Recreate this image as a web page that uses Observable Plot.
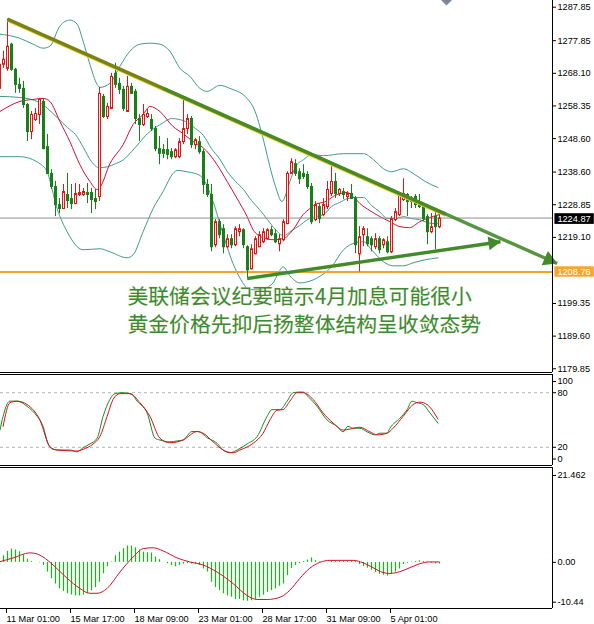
<!DOCTYPE html>
<html><head><meta charset="utf-8">
<script src="https://cdn.jsdelivr.net/npm/d3@7"></script>
<script src="https://cdn.jsdelivr.net/npm/@observablehq/plot@0.6"></script>
<style>
html,body{margin:0;padding:0;background:#fff;}
#chart{position:relative;width:594px;height:624px;overflow:hidden;background:#fff;}
#chart svg{position:absolute;left:0;}
</style></head><body><div id="chart"></div>
<script>
// ===== DATA (XAUUSD H4) =====
const barStart = -1; // index of first bar
const openP = [1263.6,1270.8,1269.6,1276.8,1269.3,1264.8,1263.6,1258.8,1250.7,1254.3,
 1255.8,1259.7,1246.2,1238.2,1234.3,1228.9,1227.7,1231.9,1230.7,1229.2,
 1231.9,1231.9,1232.5,1232.5,1230.7,1231.3,1261.2,1255.2,1257.6,1268.1,
 1265.1,1263.3,1256.7,1264.2,1262.7,1254.6,1252.8,1255.2,1254.3,1251.6,
 1245.6,1245.3,1245.3,1244.7,1243.2,1243.2,1247.7,1251.6,1254.6,1246.8,
 1247.7,1244.7,1234.9,1231.9,1216.9,1223.8,1221.7,1216.3,1218.7,1216.9,
 1220.8,1221.4,1216.3,1209.7,1214.2,1216.3,1217.8,1218.7,1221.4,1220.2,
 1217.2,1218.4,1223.2,1238.2,1241.1,1238.7,1238.2,1237.9,1234.3,1224.4,
 1228.3,1225.9,1228.3,1232.2,1235.8,1232.2,1232.8,1231.3,1232.2,1230.7,
 1214.2,1219.9,1219.3,1218.7,1216.3,1218.7,1216.9,1217.8,1214.8,1224.4,
 1225.9,1230.4,1231.9,1229.8,1231.3,1229.8,1228.3,1225.3,1220.8,1225.3,
 1222.3];
const highP = [1271.7,1274.7,1284.3,1277.1,1269.6,1266.6,1265.7,1259.1,1256.7,1257.6,
 1260.6,1260.6,1249.8,1239.3,1235.8,1230.7,1234.9,1238.2,1234.9,1235.2,
 1234.9,1233.7,1235.2,1233.7,1233.4,1263.9,1261.8,1259.1,1268.1,1271.1,
 1266.6,1264.2,1267.2,1265.1,1263.3,1255.8,1258.8,1257.3,1255.8,1252.2,
 1249.2,1246.8,1248.6,1245.6,1245.6,1248.6,1260.3,1255.8,1255.2,1248.6,
 1249.2,1245.3,1236.4,1234.9,1224.4,1224.4,1222.9,1219.9,1219.9,1222.3,
 1222.9,1221.7,1216.6,1216.9,1219.3,1220.8,1221.7,1221.7,1222.3,1221.4,
 1219.9,1224.4,1238.7,1242.6,1242.3,1239.6,1240.8,1238.7,1235.2,1229.8,
 1229.2,1230.7,1235.8,1240.2,1238.2,1233.7,1233.7,1232.8,1234.9,1231.3,
 1222.3,1222.3,1221.7,1219.3,1220.2,1219.3,1218.7,1219.3,1225.3,1227.7,
 1232.2,1236.6,1232.2,1231.3,1231.9,1231.9,1228.9,1225.9,1226.2,1227.4,
 1226.2];
const lowP = [1262.7,1269.6,1268.7,1268.7,1262.1,1262.1,1257.6,1247.7,1248.3,1253.7,
 1252.8,1245.3,1237.9,1233.4,1225.3,1226.2,1227.4,1227.7,1227.4,1228.9,
 1231.3,1231.3,1229.2,1226.2,1227.4,1229.8,1254.6,1254.3,1257.3,1263.6,
 1261.8,1256.7,1256.4,1261.8,1252.8,1247.7,1252.2,1254.6,1250.7,1244.7,
 1240.8,1242.6,1242.3,1242.3,1242.6,1242.6,1246.8,1249.8,1245.6,1245.3,
 1243.9,1231.9,1231.0,1214.8,1216.0,1218.7,1214.2,1215.7,1215.7,1216.3,
 1219.3,1215.7,1207.0,1209.4,1213.9,1216.0,1217.2,1218.4,1219.3,1217.2,
 1214.8,1217.8,1222.9,1237.9,1237.3,1234.9,1236.4,1233.4,1222.9,1223.8,
 1223.2,1225.3,1227.4,1231.3,1230.7,1231.3,1230.4,1229.8,1230.4,1214.2,
 1208.8,1216.3,1216.3,1214.8,1215.4,1214.2,1215.7,1214.2,1214.2,1223.8,
 1225.3,1229.8,1225.3,1227.7,1227.7,1227.7,1223.8,1216.9,1220.2,1215.4,
 1221.7];
const closeP = [1270.8,1272.3,1276.2,1269.3,1264.8,1263.6,1258.8,1250.7,1255.8,1256.1,
 1260.3,1245.6,1238.2,1234.3,1228.9,1227.7,1232.8,1230.1,1229.2,1232.2,
 1232.5,1232.8,1231.9,1230.4,1229.8,1262.1,1255.2,1258.2,1267.2,1264.8,
 1263.3,1257.6,1264.2,1262.1,1254.6,1252.8,1255.8,1256.1,1251.6,1245.6,
 1244.2,1244.2,1243.9,1243.2,1245.3,1247.7,1251.6,1254.6,1246.8,1248.3,
 1244.7,1234.9,1231.9,1216.3,1223.8,1219.9,1216.3,1218.7,1216.9,1221.7,
 1221.7,1216.9,1209.4,1215.7,1218.7,1219.9,1220.8,1221.4,1219.9,1217.8,
 1218.7,1223.8,1238.2,1241.7,1238.2,1236.6,1237.3,1234.3,1223.8,1228.9,
 1224.7,1228.9,1233.4,1235.8,1232.2,1233.4,1231.9,1232.2,1230.7,1216.9,
 1219.3,1221.7,1217.2,1216.9,1218.7,1215.4,1218.4,1214.8,1224.7,1226.8,
 1231.9,1232.2,1229.8,1230.7,1228.9,1228.3,1224.7,1220.8,1222.3,1222.3,
 1224.87];

// Bollinger bands & moving average, [bar index, price]
const bbUpper = [[-0.875,1279.8],[4,1278.6],[7.4,1276.8],[9.9,1275.6],[11.6,1276.2],[14.1,1282.2],[16.6,1284.0],[18.4,1282.8],[19.9,1277.7],[21.6,1270.8],[23.4,1264.8],[24.1,1263.9],[26.6,1265.1],[29.1,1270.2],[31.6,1274.7],[34.1,1276.8],[36.6,1277.1],[39.1,1276.8],[41.6,1274.7],[44.1,1269.6],[46.6,1267.2],[49.1,1263.6],[50.9,1262.7],[54.1,1264.5],[56.6,1263.6],[60.9,1260.6],[62.9,1256.7],[64.1,1252.2],[65.4,1246.2],[66.6,1240.2],[68,1234.3],[69.6,1229.8],[71.6,1235.8],[73,1240.2],[75,1242.3],[77,1243.8],[80,1243.5],[85,1244.1],[90,1244.1],[92.5,1242.3],[95,1239.6],[97,1238.7],[100,1239.6],[102.4,1238.2],[105.4,1235.8],[108.6,1234.0]];
const bbMiddle = [[-0.875,1261.2],[4,1260.9],[9,1259.4],[11,1257.6],[13.4,1254.9],[16,1251.9],[18,1249.8],[20,1245.9],[22,1241.7],[24,1239.9],[26,1240.2],[28,1241.1],[30,1242.3],[32,1244.7],[34,1247.4],[36,1250.1],[38,1251.9],[40,1253.4],[42,1254.6],[44,1254.3],[46,1253.4],[48,1251.6],[50,1249.5],[52,1245.6],[54,1242.6],[56,1238.7],[58,1235.8],[60,1233.4],[62,1230.1],[64,1227.4],[66,1224.4],[68,1221.4],[70,1219.6],[72,1221.1],[74,1222.6],[76,1224.4],[78,1225.3],[80,1225.9],[82,1228.3],[84,1229.5],[86,1230.7],[88,1231.0],[90,1231.0],[92,1228.6],[94,1226.8],[96,1224.7],[98,1224.7],[100,1225.3],[102,1224.7],[104,1224.4],[106,1223.5],[108,1223.2],[109,1223.5]];
const bbLower = [[-0.875,1243.2],[4.1,1243.2],[9.1,1241.1],[10.9,1238.7],[13.4,1227.7],[15.9,1220.8],[19.9,1215.4],[24.1,1215.7],[26.6,1214.8],[30.9,1213.0],[32.4,1213.9],[34.9,1220.8],[37.4,1227.7],[39.9,1232.8],[42.4,1238.2],[43.4,1239.1],[45.9,1238.7],[49.1,1237.6],[52.4,1229.8],[54.1,1223.2],[55.9,1216.3],[57.4,1211.2],[59.1,1207.0],[60.9,1204.0],[62.9,1203.4],[65.4,1204.0],[67.4,1205.5],[68.6,1208.2],[69.9,1210.3],[71.6,1207.6],[74.1,1205.5],[77.4,1206.4],[80,1208.2],[82,1210.3],[85,1215.4],[88,1217.5],[90,1217.8],[92,1215.4],[95,1211.8],[97.5,1210.6],[100,1210.6],[102.4,1211.5],[105.4,1212.4],[108.6,1213.0]];
const maLine = [[-0.875,1256.7],[4.1,1259.7],[7.4,1260.3],[9.9,1260.6],[11.6,1259.7],[14.1,1253.7],[16.6,1247.7],[19.1,1240.8],[21.6,1235.8],[23.4,1233.4],[24.1,1234.0],[26.6,1241.1],[29.9,1246.8],[32.4,1252.8],[34.9,1255.8],[36.6,1258.2],[39.1,1256.7],[42.4,1252.2],[44.9,1250.1],[47.4,1247.7],[49.9,1245.9],[53.4,1240.8],[55.9,1235.8],[58.4,1230.7],[60.9,1225.3],[62.4,1221.4],[64.9,1219.0],[67.4,1218.4],[69.9,1218.7],[72.4,1221.4],[74.9,1225.9],[76.6,1227.7],[78.4,1229.2],[79.9,1229.5],[83.4,1231.9],[85.9,1232.5],[87.4,1231.3],[89.1,1229.2],[91.6,1227.1],[94.1,1225.3],[96.6,1223.8],[99.1,1222.3],[101.5,1222.0],[104.1,1223.8],[106.5,1225.0],[108.9,1225.9]];

// drawn objects
const bidPrice = 1224.87;
const supportLevel = 1208.76;
const resistTrend = [{k1: 1, p1: 1284.3, k2: 110.5, p2: 1226.1}];
const resistArrow = [{k1: 40, p1: 1263.58, k2: 138.4, p2: 1211.3}];
const supportArrow = [{k1: 60.9, p1: 1206.8, k2: 124.25, p2: 1217.8}];
const marker = [{k: 110.75, p: 1290.15}];
const headline = ["美联储会议纪要暗示4月加息可能很小", "黄金价格先抑后扬整体结构呈收敛态势"];
const priceTicks = [1287.85, 1277.85, 1268.10, 1258.35, 1248.60, 1238.60, 1228.85, 1219.10, 1199.35, 1189.60, 1179.85];

// Stochastic, [bar index, value]
const stochK = [[-0.875,39],[-0.1,54],[1.1,69],[1.6,70.7],[3.4,70.7],[5.9,65],[8.4,54],[9.9,43],[11.1,24.4],[12.4,17.8],[14.1,17],[16.6,17],[18.4,15],[19.9,19.6],[21.6,23.7],[23.4,30],[24.9,54],[26.6,72.6],[27.9,79],[29.9,80],[32.1,78],[33.4,70.7],[35.9,57.8],[37.9,30],[39.1,28],[41.6,26],[43.4,27],[44.9,28],[47.1,37.3],[48.6,37.3],[51.1,30],[53.4,24.4],[54.9,17],[56.6,14],[58.4,17],[60.9,23.7],[63.4,31.8],[65.9,54],[67.1,61.4],[69.1,61.4],[70.9,70.7],[72.4,80],[74.1,80.7],[74.9,80.7],[76.1,76],[78.4,65],[80.9,50],[83.4,43],[84.9,37],[86.1,43],[87.4,41],[89.1,41],[90.9,37],[92.9,33.7],[94.1,35.5],[95.9,35.5],[96.6,41],[99.1,52],[100.9,61.4],[102.1,70.7],[103.4,69],[104.9,67],[106.6,57.8],[108.6,46.7]];
const stochD = [[-0.1,43],[1.6,69],[3.4,70.7],[5.9,67],[9.1,50],[11.6,20.7],[13.4,17],[18.4,15.9],[19.9,17.8],[22.4,23.7],[24.1,31.8],[25.9,54],[27.4,72.6],[29.1,79],[31.6,79],[34.1,69],[36.6,54],[39.1,30],[41.6,25],[44.9,28],[48.4,37.3],[49.9,35.5],[52.4,26],[54.9,17],[57.4,14],[59.1,17],[62.4,24.4],[64.9,35.5],[66.6,50],[68.4,60.7],[69.9,61.4],[71.6,70.7],[73.4,80],[74.9,80],[77.4,72.6],[79.9,57.8],[82.4,46.7],[84.9,39],[86.6,40],[89.1,42],[91.6,37],[93.4,33.7],[95.9,35.5],[97.4,41],[99.9,54],[102.4,67],[104.1,69.6],[105.9,67],[107.4,59.6],[108.6,51]];
const stochTicks = [100, 80, 20, 0];

// MACD histogram per bar (from bar 0) and signal line [bar index, value]
const macdStart = 0;
const macdHist = [1.5,2.5,3.0,2.8,2.4,1.7,0.7,0.2,0.0,-0.1,
 -0.7,-2.2,-3.7,-4.9,-6.0,-6.6,-7.1,-7.4,-7.6,-7.6,
 -7.4,-7.1,-6.4,-5.7,-4.5,-2.6,-1.0,0.1,1.5,2.3,
 3.1,3.7,3.7,3.3,2.8,2.3,2.2,2.1,1.2,0.6,
 0.0,-0.3,-0.7,-1.0,-0.7,-0.4,-0.3,-0.4,-0.5,-0.7,
 -1.5,-2.2,-4.5,-5.7,-6.4,-7.1,-7.6,-7.9,-8.4,-8.4,
 -8.7,-8.8,-8.7,-8.4,-7.9,-7.4,-6.8,-6.4,-6.0,-5.4,
 -4.9,-3.0,-1.4,-0.7,-0.3,0.2,0.5,1.0,0.4,0.1,
 0.0,0.0,0.3,0.3,0.3,0.3,0.3,0.3,0.3,-0.5,
 -0.9,-1.3,-1.8,-2.3,-2.7,-2.9,-3.1,-2.7,-2.2,-1.5,
 -0.5,-0.2,0.1,0.2,0.35,0.2,0.1,-0.2,-0.3,-0.35];
const macdSignal = [[-0.875,0.16],[2.4,1.0],[6.6,2.15],[8.4,1.9],[9.9,1.2],[12.4,-0.6],[15.9,-3.6],[19.1,-5.9],[21.6,-7.0],[23.4,-7.0],[25.9,-5.9],[29.1,-2.2],[32.4,1.2],[34.9,3.1],[37.4,3.3],[39.9,2.6],[43.4,1.0],[46.6,0.1],[49.9,-0.6],[53.4,-2.2],[57.4,-4.8],[60.9,-7.5],[63.4,-8.4],[65.9,-8.4],[69.1,-7.9],[71.6,-6.3],[74.1,-3.6],[76.6,-1.3],[79.1,0.0],[81.6,0.45],[84.1,0.45],[87.4,0.45],[89.9,-0.1],[92.4,-1.2],[94.9,-2.3],[96.6,-2.5],[99.1,-2.1],[101.6,-1.2],[104.1,-0.3],[106.6,0.1],[108.9,0.1]];
const macdMax = 21.462, macdMin = -10.44;

// time axis
const timeK = [1, 17, 33, 49, 65, 81, 97];
const timeLabels = ["11 Mar 01:00", "15 Mar 17:00", "18 Mar 09:00", "23 Mar 01:00", "28 Mar 17:00", "31 Mar 09:00", "5 Apr 01:00"];

// ===== STYLE / LAYOUT =====
const W = 594, MR = 42;
const xDom = [-0.75, 137.25];
const GREEN = "#1a7f1a", RED = "#e31515", TEAL = "#3f9a88", MARED = "#cf1038";
const ARROWG = "#438a2c";
const FONT = "'Liberation Sans', Arial, sans-serif";
const FS = 9.2;
const boxK1 = 137.85, boxK2 = 147.7;

const candles = openP.map((o, i) => ({k: i + barStart, o, h: highP[i], l: lowP[i], c: closeP[i]}));
const upC = candles.filter(d => d.c >= d.o), dnC = candles.filter(d => d.c < d.o);
const P0 = d => d[0], P1 = d => d[1];

const root = document.getElementById("chart");
function place(svg, top) { svg.style.top = top + "px"; root.appendChild(svg); }

// ---- main price panel ----
const main = Plot.plot({
  width: W, height: 373, marginLeft: 0, marginRight: MR, marginTop: 0, marginBottom: 1,
  x: {domain: xDom, axis: null, label: null},
  y: {domain: [1178.74, 1289.85], label: null},
  style: {fontFamily: FONT, fontSize: FS + "px", background: "transparent"},
  marks: [
    Plot.line(bbUpper, {x: P0, y: P1, stroke: TEAL, strokeWidth: 1, curve: "monotone-x"}),
    Plot.line(bbMiddle, {x: P0, y: P1, stroke: TEAL, strokeWidth: 1, curve: "monotone-x"}),
    Plot.line(bbLower, {x: P0, y: P1, stroke: TEAL, strokeWidth: 1, curve: "monotone-x"}),
    Plot.line(maLine, {x: P0, y: P1, stroke: MARED, strokeWidth: 1, curve: "monotone-x"}),
    Plot.ruleY([bidPrice], {stroke: "#8e8e8e", strokeWidth: 1}),
    Plot.ruleY([supportLevel], {stroke: "#f2a42a", strokeWidth: 2}),
    Plot.ruleX(dnC, {x: "k", y1: "l", y2: "h", stroke: GREEN}),
    Plot.ruleX(upC, {x: "k", y1: "l", y2: "h", stroke: RED}),
    Plot.rect(dnC, {x1: d => d.k - 0.25, x2: d => d.k + 0.25, y1: "o", y2: "c", fill: GREEN, stroke: GREEN, strokeWidth: 1, dx: 0.5, dy: 0.5}),
    Plot.rect(upC, {x1: d => d.k - 0.25, x2: d => d.k + 0.25, y1: "o", y2: "c", fill: "white", stroke: RED, strokeWidth: 1, dx: 0.5, dy: 0.5}),
    // resistance trendline (olive with yellow edge) and green arrow
    Plot.link(resistTrend, {x1: "k1", y1: "p1", x2: "k2", y2: "p2", stroke: "#e2d21e", strokeWidth: 2, dy: 1.8}),
    Plot.link(resistTrend, {x1: "k1", y1: "p1", x2: "k2", y2: "p2", stroke: "#79801a", strokeWidth: 3.4}),
    Plot.link(resistArrow, {x1: "k1", y1: "p1", x2: "k2", y2: "p2", stroke: ARROWG, strokeWidth: 3.4, strokeOpacity: 0.9}),
    Plot.dot(resistArrow, {x: "k2", y: "p2", symbol: "triangle", r: 5.8, rotate: 113.9, fill: ARROWG, dx: -8.2, dy: -3.6}),
    Plot.link(supportArrow, {x1: "k1", y1: "p1", x2: "k2", y2: "p2", stroke: ARROWG, strokeWidth: 3.4}),
    Plot.dot(supportArrow, {x: "k2", y: "p2", symbol: "triangle", r: 5.2, rotate: 81.8, fill: ARROWG, dx: -7.9, dy: 1.1}),
    Plot.dot(marker, {x: "k", y: "p", symbol: "square", r: 4.8, rotate: 45, fill: "#7b8797"}),
    Plot.text(headline.slice(0, 1), {frameAnchor: "top-left", text: d => d, dx: 127, dy: 297, textAnchor: "start", lineAnchor: "middle", fontSize: 20.8, fontFamily: "'Noto Sans CJK SC', sans-serif", fill: "#3a8a3a", stroke: "#f3f1cf", strokeWidth: 0.9}),
    Plot.text(headline.slice(1, 2), {frameAnchor: "top-left", text: d => d, dx: 127, dy: 324.5, textAnchor: "start", lineAnchor: "middle", fontSize: 20.8, fontFamily: "'Noto Sans CJK SC', sans-serif", fill: "#3a8a3a", stroke: "#f3f1cf", strokeWidth: 0.9}),
    Plot.axisY(priceTicks, {anchor: "right", tickSize: 3, tickPadding: 2, tickFormat: d => d.toFixed(2), fontSize: FS, fill: "black", label: null}),
    Plot.rect([bidPrice], {x1: boxK1, x2: boxK2, y1: d => d - 1.6, y2: d => d + 1.6, fill: "black", dy: 1}),
    Plot.text([bidPrice], {x: boxK1, y: d => d, text: d => d.toFixed(2), fill: "white", textAnchor: "start", dx: 2.5, dy: 1, fontSize: FS}),
    Plot.rect([supportLevel], {x1: boxK1, x2: boxK2, y1: d => d - 1.55, y2: d => d + 1.55, fill: "#f4a628"}),
    Plot.text([supportLevel], {x: boxK1, y: d => d, text: d => d.toFixed(2), fill: "white", textAnchor: "start", dx: 2.5, fontSize: FS}),
    Plot.ruleX([xDom[1]], {stroke: "black"}),
    Plot.ruleY([1178.74], {stroke: "black"})
  ]
});
place(main, 0);

// ---- stochastic panel ----
const stoch = Plot.plot({
  width: W, height: 94, marginLeft: 0, marginRight: MR, marginTop: 1, marginBottom: 2,
  x: {domain: xDom, axis: null, label: null},
  y: {domain: [0, 100], label: null},
  style: {fontFamily: FONT, fontSize: FS + "px", background: "transparent"},
  marks: [
    Plot.ruleY([80, 20], {stroke: "#b5b5b5", strokeDasharray: "3,3"}),
    Plot.line(stochK, {x: P0, y: P1, stroke: "#1a8a1a", strokeWidth: 1, curve: "monotone-x"}),
    Plot.line(stochD, {x: P0, y: P1, stroke: "#d2101e", strokeWidth: 1, curve: "monotone-x"}),
    Plot.axisY(stochTicks.slice(1, 3), {anchor: "right", tickSize: 3, tickPadding: 2, fontSize: FS, fill: "black", label: null}),
    Plot.axisY(stochTicks.slice(0, 1), {anchor: "right", tickSize: 3, tickPadding: 2, fontSize: FS, fill: "black", label: null, dy: 7}),
    Plot.axisY(stochTicks.slice(3, 4), {anchor: "right", tickSize: 3, tickPadding: 2, fontSize: FS, fill: "black", label: null, dy: -6.5}),
    Plot.ruleY([0, 100], {stroke: "black"}),
    Plot.ruleX([xDom[1]], {stroke: "black"})
  ]
});
place(stoch, 373);

// ---- MACD panel ----
const hist = macdHist.map((v, i) => ({k: i + macdStart, v}));
const macd = Plot.plot({
  width: W, height: 158, marginLeft: 0, marginRight: MR, marginTop: 1, marginBottom: 16,
  x: {domain: xDom, label: null},
  y: {domain: [macdMin, macdMax], label: null},
  style: {fontFamily: FONT, fontSize: FS + "px", background: "transparent"},
  marks: [
    Plot.ruleX(hist, {x: "k", y1: () => 0, y2: "v", stroke: "#16b816", strokeWidth: 1.2}),
    Plot.line(macdSignal, {x: P0, y: P1, stroke: "#d2102e", strokeWidth: 1, curve: "monotone-x"}),
    Plot.axisY([0], {anchor: "right", tickSize: 3, tickPadding: 2, tickFormat: d => d.toFixed(2), fontSize: FS, fill: "black", label: null}),
    Plot.axisY([macdMax], {anchor: "right", tickSize: 3, tickPadding: 2, tickFormat: d => String(d), fontSize: FS, fill: "black", label: null, dy: 8}),
    Plot.axisY([macdMin], {anchor: "right", tickSize: 3, tickPadding: 2, tickFormat: d => String(d), fontSize: FS, fill: "black", label: null, dy: -6.3}),
    Plot.axisX(timeK, {anchor: "bottom", tickFormat: d => timeLabels[timeK.indexOf(d)], textAnchor: "start", tickSize: 5, tickPadding: 2, fontSize: FS, fill: "black", label: null, dx: -1}),
    Plot.ruleY([macdMin, macdMax], {stroke: "black"}),
    Plot.ruleX([xDom[1]], {stroke: "black"})
  ]
});
place(macd, 466);
</script>
</body></html>
